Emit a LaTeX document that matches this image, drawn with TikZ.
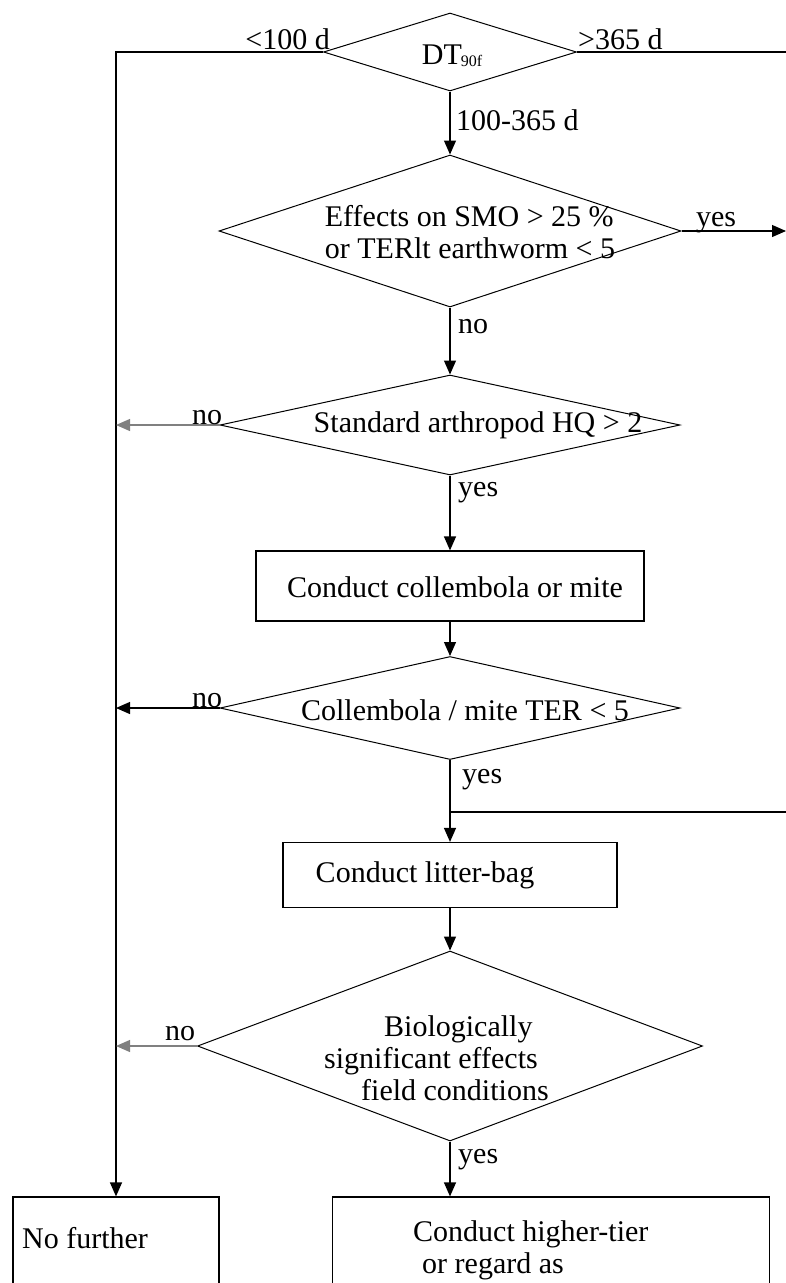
\documentclass[tikz,border=0pt]{standalone}
\usepackage{fontspec}
\setmainfont{Liberation Serif}
\usetikzlibrary{positioning,arrows.meta,shapes.geometric}
\tikzset{
  dec/.style={draw, diamond, inner sep=0pt, line width=1pt},
  box/.style={draw, rectangle, inner sep=0pt, line width=1.2pt},
  txt/.style={inner sep=0pt, align=center, font=\fontsize{30}{32}\selectfont},
  lbl/.style={inner sep=0pt, font=\fontsize{30}{32}\selectfont},
  flow/.style={line width=1.2pt, -{Triangle[length=14pt,width=12pt]}},
  flow-n/.style={line width=1.2pt},
  flow-g/.style={flow, draw=black!50}
}
\begin{document}
\begin{tikzpicture}[x=1pt, y=-1pt]
\useasboundingbox (0,0) rectangle (786,1283);
\clip (0,0) rectangle (786,1283);

% decisions and boxes
\node[dec, minimum width=253pt, minimum height=78pt] (dt) at (450,52) {};
\node[txt] (dt-t) at (452,56) {DT\kern-1pt\raisebox{-2pt}{\fontsize{16}{16}\selectfont 90f}};
\node[dec, minimum width=462pt, minimum height=152pt] (smo) at (450,231) {};
\node[txt, align=left] (smo-t) at (470,232) {Effects on SMO > 25 \%\\or TERlt earthworm < 5};
\node[dec, minimum width=460pt, minimum height=100pt] (hq) at (450,425) {};
\node[txt] (hq-t) at (478,425) {Standard arthropod HQ > 2};
\node[box, minimum width=388pt, minimum height=70pt] (col) at (450,586) {};
\node[txt] (col-t) at (455,587) {Conduct collembola or mite};
\node[dec, minimum width=460pt, minimum height=103pt] (ter) at (450,708) {};
\node[txt] (ter-t) at (465,710) {Collembola / mite TER < 5};
\node[box, minimum width=334pt, minimum height=65pt] (lit) at (450,875) {};
\node[txt] (lit-t) at (425,875) {Conduct litter-bag};
\node[dec, minimum width=505pt, minimum height=190pt] (bio) at (450,1046) {};
\node[txt, align=left, anchor=west] (bio-t) at (324,1058)
  {\hspace*{60pt}Biologically\\significant effects\\\hspace*{37pt}field conditions};
\node[box, minimum width=206pt, minimum height=126pt] (nofur) at (116,1260) {};
\node[txt, anchor=west] (nofur-t) at (22,1238) {No further};
\node[box, minimum width=437pt, minimum height=126pt] (high) at (551,1260) {};
\node[txt, align=left, anchor=west] (high-t) at (413,1250)
  {Conduct higher-tier\\\hspace*{9pt}or regard as};

% free ends
\coordinate (lft) at (116,52);
\coordinate (rt1) at (786,52);
\coordinate (rt2) at (786,231);
\coordinate (rt3) at (786,812);
\coordinate (jn) at (450,812);

% connectors
\draw[flow] (dt.west) -- (lft) -- (lft |- nofur.north);
\draw[flow-n] (dt.east) -- (rt1);
\draw[flow] (dt.south) -- (smo.north);
\draw[flow] (smo.east) -- (rt2);
\draw[flow] (smo.south) -- (hq.north);
\draw[flow-g] (hq.west) -- (hq.west -| lft);
\draw[flow] (hq.south) -- (col.north);
\draw[flow] (col.south) -- (ter.north);
\draw[flow] (ter.west) -- (ter.west -| lft);
\draw[flow] (ter.south) -- (lit.north);
\draw[flow-n] (rt3) -- (jn);
\draw[flow] (lit.south) -- (bio.north);
\draw[flow-g] (bio.west) -- (bio.west -| lft);
\draw[flow] (bio.south) -- (bio.south |- high.north);

% labels
\node[lbl, anchor=base east] (l-lt) at (330,49) {<100 d};
\node[lbl, anchor=base west] (l-gt) at (578,49) {>365 d};
\node[lbl, anchor=west] (l-mid) at (456,120) {100-365 d};
\node[lbl, anchor=base] (yes-smo) at (716,226) {yes};
\node[lbl, anchor=west] (no-smo) at (458,327) {no};
\node[lbl, anchor=base] (no-hq) at (207,424) {no};
\node[lbl, anchor=west] (yes-hq) at (458,493) {yes};
\node[lbl, anchor=base] (no-ter) at (207,707) {no};
\node[lbl, anchor=west] (yes-ter) at (462,780) {yes};
\node[lbl, anchor=base] (no-bio) at (180,1040) {no};
\node[lbl, anchor=west] (yes-bio) at (458,1160) {yes};
\end{tikzpicture}
\end{document}
